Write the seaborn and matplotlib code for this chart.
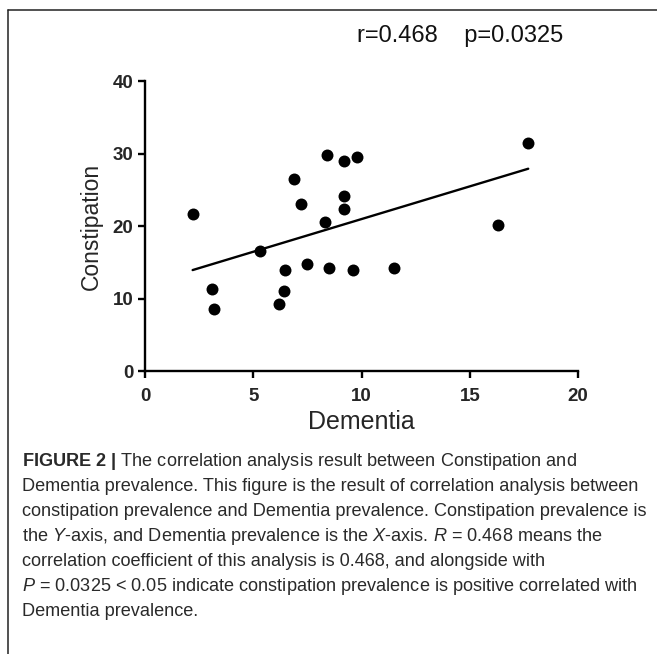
import numpy as np
import pandas as pd
import matplotlib
matplotlib.use("Agg")
import matplotlib.pyplot as plt
from matplotlib.lines import Line2D
import seaborn as sns

# Valores (prevalencia de demencia vs estreñimiento)
dementia = [2.2, 3.1, 3.2, 5.3, 6.2, 6.4, 6.45, 6.9, 7.2, 7.5, 8.3,
            8.4, 8.5, 9.2, 9.2, 9.2, 9.8, 9.6, 11.5, 16.3, 17.7]
constipation = [21.7, 11.3, 8.5, 16.6, 9.2, 11.0, 14.0, 26.5, 23.0, 14.7, 20.6,
                29.8, 14.2, 29.0, 24.2, 22.4, 29.5, 14.0, 14.2, 20.2, 31.4]
x_ticks = [0, 5, 10, 15, 20]
y_ticks = [0, 10, 20, 30, 40]
r_value = "0.468"
p_value = "0.0325"

caption_lines = [
    r"$\mathbf{FIGURE\ 2\ |}$ The correlation analysis result between Constipation and",
    "Dementia prevalence. This figure is the result of correlation analysis between",
    "constipation prevalence and Dementia prevalence. Constipation prevalence is",
    r"the $\mathit{Y}$-axis, and Dementia prevalence is the $\mathit{X}$-axis. $\mathit{R}$ = 0.468 means the",
    "correlation coefficient of this analysis is 0.468, and alongside with",
    r"$\mathit{P}$ = 0.0325 < 0.05 indicate constipation prevalence is positive correlated with",
    "Dementia prevalence.",
]

df = pd.DataFrame({"Dementia": dementia, "Constipation": constipation})

sns.set_style("ticks")
plt.rcParams["font.family"] = ["Liberation Sans", "DejaVu Sans"]
plt.rcParams["mathtext.fontset"] = "custom"
plt.rcParams["mathtext.rm"] = "Liberation Sans"
plt.rcParams["mathtext.it"] = "Liberation Sans:italic"
plt.rcParams["mathtext.bf"] = "Liberation Sans:bold"

fig = plt.figure(figsize=(6.57, 6.54), dpi=100)
ax = fig.add_axes([0.2207, 0.4327, 0.6591, 0.4434])

sns.regplot(data=df, x="Dementia", y="Constipation", ax=ax, ci=None,
            scatter_kws={"s": 74, "color": "black", "linewidths": 0, "alpha": 1},
            line_kws={"color": "black", "linewidth": 1.7})

ax.set_xlim(0, 20)
ax.set_ylim(0, 40)
ax.set_xticks(x_ticks)
ax.set_yticks(y_ticks)
ax.set_xticklabels([str(t) for t in x_ticks], fontsize=13.5, fontweight="bold")
ax.set_yticklabels([str(t) for t in y_ticks], fontsize=13.5, fontweight="bold")
ax.tick_params(axis="both", direction="out", length=5, width=1.7, color="black")
ax.tick_params(axis="x", pad=7)
ax.tick_params(axis="y", pad=3.5)
for side in ["left", "bottom"]:
    ax.spines[side].set_linewidth(1.7)
    ax.spines[side].set_color("black")
sns.despine(ax=ax)
ax.set_xlabel("Dementia", fontsize=18, labelpad=4)
ax.set_ylabel("Constipation", fontsize=16.5, labelpad=7)

fig.text(0.543, 0.945, f"r={r_value}    p={p_value}", fontsize=17,
         ha="left", va="center", color="#111111")

# marco de la figura (solo arriba e izquierda visibles)
fig.add_artist(Line2D([8 / 657, 1.0], [1 - 10 / 654, 1 - 10 / 654],
                      transform=fig.transFigure, color="#222222", linewidth=1.1))
fig.add_artist(Line2D([8 / 657, 8 / 657], [0.0, 1 - 10 / 654],
                      transform=fig.transFigure, color="#222222", linewidth=1.1))

y0 = 461
for i, line in enumerate(caption_lines):
    fig.text(22 / 657, 1 - (y0 + 25.1 * i) / 654, line, fontsize=13.1,
             ha="left", va="center", color="#2a2a2a")

fig.savefig("out.png", dpi=100)
